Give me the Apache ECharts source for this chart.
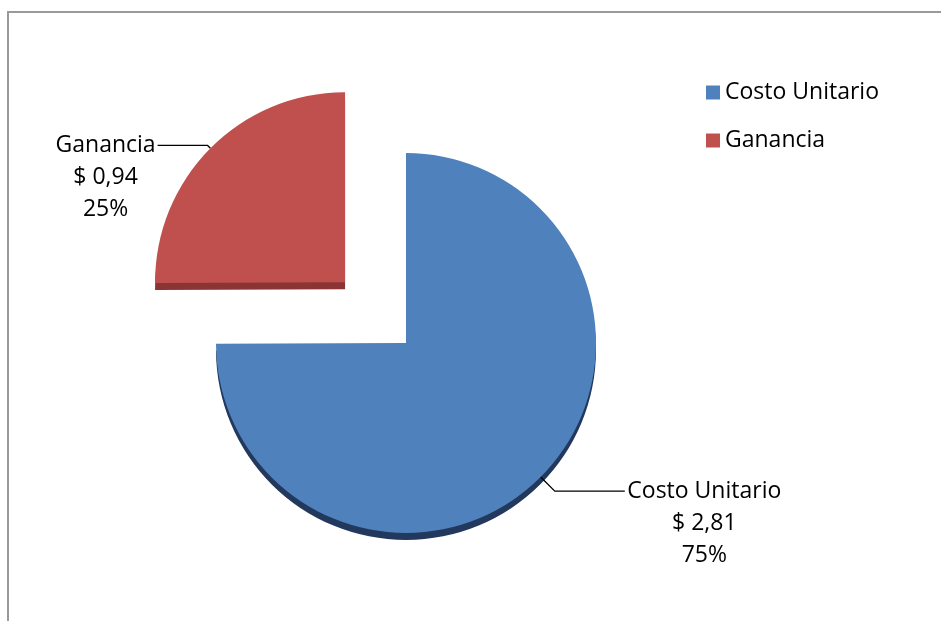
<!DOCTYPE html>
<html>
<head>
<meta charset="utf-8">
<script src="https://cdn.jsdelivr.net/npm/echarts@6/dist/echarts.min.js"></script>
<style>
  html, body { margin: 0; padding: 0; background: #fff; }
  #chart { width: 941px; height: 621px; }
</style>
</head>
<body>
<div id="chart"></div>
<script>
// datos del grafico
const categories = ['Costo Unitario', 'Ganancia']
const values = [2.81, 0.94]
const exploded = [false, true]

const faceColors = ['#4F81BD', '#C0504D']
const rimColors = ['#22385C', '#8A3533']

const FONT = 'Open Sans'
const FS = 23

let chart = echarts.init(document.getElementById('chart'))

function fmtNum(v) {
  return v.toFixed(2).replace('.', ',')
}

const mainData = categories.map((name, i) => ({
  name: name,
  value: values[i],
  selected: exploded[i],
  itemStyle: { color: faceColors[i] },
  labelLine: i === 0 ? { length: 20, length2: 70 } : { length: 4, length2: 50 }
}))

const rimData = categories.map((name, i) => ({
  name: name,
  value: values[i],
  selected: exploded[i],
  itemStyle: { color: rimColors[i] }
}))

chart.setOption({
  animation: false,
  graphic: [{
    type: 'rect',
    z: -1,
    shape: { x: 8, y: 12, width: 1000, height: 700 },
    style: { fill: 'none', stroke: '#9a9a9a', lineWidth: 2 }
  }],
  legend: {
    orient: 'vertical',
    left: 701,
    top: 76,
    itemWidth: 14,
    itemHeight: 14,
    itemGap: 25,
    data: categories,
    icon: 'rect',
    textStyle: { fontFamily: FONT, fontSize: FS, color: '#000' }
  },
  series: [
    {
      // cara superior
      type: 'pie',
      z: 3,
      center: [406, 343],
      radius: 190,
      startAngle: 90,
      clockwise: true,
      selectedMode: 'single',
      selectedOffset: 86,
      emphasis: { disabled: true },
      silent: true,
      data: mainData,
      label: {
        show: true,
        position: 'outside',
        padding: [64, 0, 0, 0],
        distanceToLabelLine: 2,
        formatter: function (p) {
          const s = p.dataIndex === 0 ? 'a' : 'b'
          return '{' + s + '|' + p.name + '}\n{' + s + '|$ ' + fmtNum(p.value) + '}\n{' + s + '|' + Math.round(p.percent) + '%}'
        },
        rich: {
          a: { width: 155, align: 'center', fontFamily: FONT, fontSize: FS, lineHeight: 32, color: '#000' },
          b: { width: 100, align: 'center', fontFamily: FONT, fontSize: FS, lineHeight: 32, color: '#000' }
        }
      },
      labelLine: {
        show: true,
        smooth: false,
        lineStyle: { color: '#000', width: 1.3 }
      }
    },
    {
      // borde inferior (efecto 3D)
      type: 'pie',
      z: 2,
      center: [406, 350],
      radius: 190,
      startAngle: 90,
      clockwise: true,
      selectedMode: 'single',
      selectedOffset: 86,
      emphasis: { disabled: true },
      silent: true,
      data: rimData,
      label: { show: false },
      labelLine: { show: false }
    }
  ]
})
</script>
</body>
</html>
